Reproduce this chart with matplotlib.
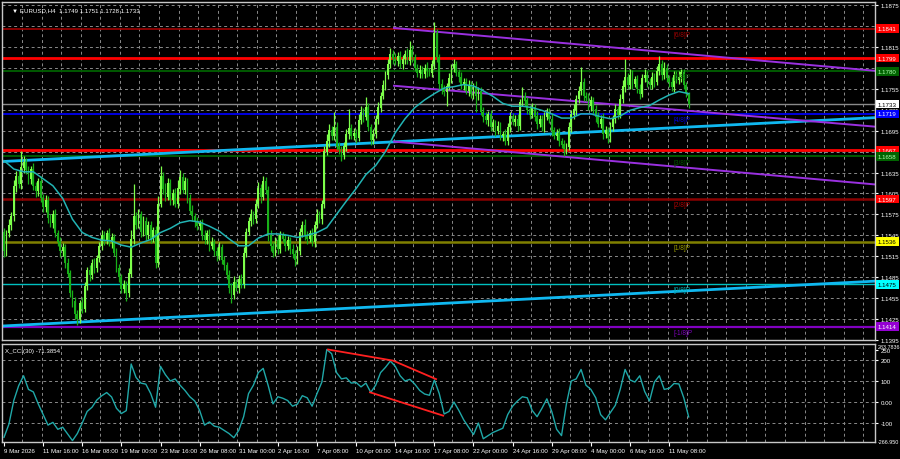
import numpy as np
import matplotlib
matplotlib.use("Agg")
import matplotlib.pyplot as plt
import matplotlib.transforms as mtransforms

plt.rcParams['font.family'] = ['Liberation Sans', 'DejaVu Sans']

# EURUSD H4 closes, in pips above 1.1000 (bar 0 = 9 Mar 2026 00:00)
close_pips = [
    522, 548, 560, 572, 615, 630, 618, 642, 650, 638,
    625, 640, 615, 608, 622, 598, 585, 596, 570, 562,
    575, 548, 535, 522, 528, 505, 490, 462, 450, 432,
    425, 448, 440, 472, 495, 488, 505, 498, 512, 530,
    545, 538, 548, 535, 542, 520, 498, 485, 468, 475,
    462, 490, 540, 572, 560, 575, 550, 565, 545, 560,
    540, 552, 505, 590, 630, 612, 600, 620, 595, 605,
    590, 612, 628, 610, 622, 598, 580, 572, 565, 558,
    562, 545, 538, 548, 530, 535, 522, 515, 528, 510,
    502, 488, 470, 460, 478, 470, 482, 475, 520, 550,
    565, 575, 568, 590, 612, 600, 622, 610, 545, 530,
    520, 538, 525, 545, 540, 530, 538, 525, 518, 510,
    522, 550, 560, 545, 540, 548, 535, 560, 575, 568,
    590, 665, 680, 695, 688, 700, 672, 668, 660, 672,
    690, 698, 688, 692, 685, 710, 722, 715, 728, 700,
    682, 690, 712, 728, 745, 760, 775, 790, 805, 798,
    795, 802, 790, 798, 805, 795, 810, 800, 785, 778,
    782, 776, 785, 780, 778, 790, 835, 800, 762, 755,
    750, 758, 770, 785, 790, 778, 772, 760, 765, 752,
    760, 748, 758, 745, 752, 722, 715, 710, 718, 700,
    705, 695, 702, 688, 690, 680, 700, 715, 708, 712,
    702, 735, 745, 738, 725, 718, 728, 715, 705, 712,
    700, 715, 722, 712, 695, 688, 692, 680, 675, 668,
    672, 700, 718, 725, 740, 752, 765, 745, 742, 730,
    738, 725, 715, 705, 712, 690, 695, 685, 700, 712,
    725, 718, 740, 758, 772, 760, 775, 762, 768, 755,
    748, 770, 775, 765, 760, 772, 765, 780, 790, 775,
    785, 770, 765, 758, 775, 768, 772, 778, 760, 749, 733,
]
first_open_pips = 550

# upper / lower wick lengths in pips
upper_wick = [
    6, 5, 8, 6, 9, 7, 8, 24, 8, 6,
    7, 5, 9, 6, 5, 8, 6, 7, 5, 6,
    6, 8, 5, 7, 6, 5, 8, 6, 5, 7,
    6, 5, 8, 6, 5, 7, 6, 8, 5, 6,
    7, 6, 5, 8, 6, 5, 7, 6, 5, 6,
    5, 8, 12, 47, 6, 8, 5, 7, 6, 5,
    6, 5, 7, 12, 14, 6, 8, 7, 5, 6,
    8, 12, 10, 6, 7, 5, 6, 8, 5, 6,
    5, 6, 7, 5, 6, 8, 5, 6, 7, 5,
    6, 5, 7, 6, 8, 5, 6, 7, 8, 6,
    6, 8, 5, 7, 9, 6, 8, 6, 5, 7,
    6, 5, 8, 6, 5, 7, 6, 5, 8, 6,
    7, 6, 5, 8, 6, 5, 7, 6, 8, 5,
    6, 8, 10, 9, 6, 22, 8, 6, 5, 7,
    8, 28, 6, 7, 5, 9, 8, 6, 15, 6,
    5, 7, 6, 8, 6, 7, 5, 8, 9, 6,
    8, 6, 7, 5, 6, 8, 14, 7, 5, 6,
    7, 5, 6, 8, 5, 6, 16, 6, 5, 7,
    6, 5, 7, 6, 8, 5, 6, 7, 5, 6,
    7, 6, 5, 8, 6, 5, 7, 6, 5, 6,
    6, 5, 7, 6, 5, 8, 6, 7, 5, 6,
    7, 6, 13, 6, 5, 7, 6, 5, 8, 6,
    6, 7, 5, 6, 8, 5, 6, 7, 5, 6,
    5, 7, 6, 8, 6, 7, 21, 6, 5, 7,
    6, 5, 7, 6, 5, 8, 6, 5, 7, 6,
    8, 6, 7, 9, 26, 6, 8, 7, 5, 6,
    7, 6, 8, 5, 6, 7, 5, 8, 12, 6,
    8, 6, 5, 7, 6, 5, 8, 6, 5, 4, 2,
]
lower_wick = [
    8, 6, 5, 7, 6, 8, 5, 6, 7, 5,
    6, 7, 5, 8, 6, 5, 7, 6, 8, 5,
    7, 6, 5, 8, 6, 7, 5, 6, 8, 7,
    9, 6, 7, 5, 6, 8, 5, 7, 6, 5,
    6, 7, 5, 6, 8, 5, 6, 7, 5, 6,
    11, 6, 5, 7, 6, 5, 8, 6, 7, 5,
    6, 5, 7, 6, 5, 8, 6, 5, 7, 6,
    5, 6, 8, 5, 6, 7, 5, 6, 8, 5,
    6, 7, 5, 6, 8, 5, 6, 7, 5, 6,
    7, 6, 8, 12, 6, 5, 7, 6, 5, 6,
    5, 6, 7, 5, 6, 8, 5, 6, 8, 7,
    6, 5, 7, 6, 5, 8, 6, 7, 5, 9,
    6, 5, 7, 6, 8, 5, 6, 7, 5, 6,
    7, 6, 5, 8, 6, 7, 5, 6, 8, 5,
    6, 7, 5, 6, 8, 5, 6, 7, 5, 6,
    7, 6, 5, 8, 6, 5, 7, 6, 5, 8,
    6, 7, 5, 6, 8, 5, 6, 7, 5, 6,
    7, 5, 6, 8, 5, 6, 7, 6, 8, 7,
    6, 19, 5, 7, 6, 5, 8, 6, 7, 5,
    8, 6, 7, 23, 6, 5, 7, 6, 8, 5,
    6, 7, 5, 6, 8, 5, 6, 7, 5, 6,
    7, 6, 5, 8, 6, 7, 5, 6, 8, 5,
    6, 7, 5, 6, 8, 5, 6, 7, 5, 9,
    6, 5, 7, 6, 8, 5, 6, 7, 5, 6,
    7, 6, 8, 5, 6, 7, 5, 8, 6, 5,
    6, 7, 5, 6, 8, 5, 6, 7, 5, 6,
    7, 5, 6, 8, 5, 6, 7, 5, 6, 8,
    6, 5, 7, 6, 8, 5, 6, 7, 5, 6, 5,
]

# moving average, every 4th bar (pips above 1.1000)
ma_pips = [
    652, 640, 636, 636, 626, 616, 598, 568, 549, 542,
    538, 537, 531, 528, 534, 539, 549, 555, 563, 566,
    564, 558, 551, 540, 530, 530, 541, 547, 547, 545,
    542, 545, 549, 556, 575, 594, 612, 632, 645, 665,
    692, 712, 728, 739, 748, 756, 758, 761, 759, 752,
    744, 734, 730, 730, 728, 724, 719, 713, 713, 719,
    719, 715, 712, 716, 724, 728, 731, 739, 746, 751, 748,
]

# CCI, every 2nd bar
cci_vals = [
    -168, -106, 7, 78, 125, 60, 48, -9, -60, -110,
    -97, -130, -120, -152, -184, -150, -100, -45, -25, 10,
    30, 45, 24, -30, -55, -41, 181, 117, 90, 85,
    40, -25, 170, 130, 100, 110, 80, 55, 25, 5,
    -40, -110, -95, -115, -120, -135, -150, -170, -135, -70,
    40, 80, 140, 160, 80, -9, 25, 18, 7, -20,
    -10, 30, 20, -20, 40, 95, 250, 230, 140, 110,
    115, 90, 93, 72, 90, 46, 80, 140, 165, 195,
    170, 125, 100, 108, 85, 55, 38, 32, 105, 40,
    -57, -45, 0, -40, -85, -120, -155, -100, -175, -160,
    -145, -135, -125, -60, -20, 5, 25, 20, -40, -70,
    -30, 15, -45, -130, -160, -10, 100, 110, 155, 80,
    60, 20, -60, -85, -50, -16, 60, 155, 105, 95,
    125, 50, 5, 95, 125, 60, 65, 88, 86, 20, -71,
]

# Murrey levels and other horizontal lines
levels = [1.1841, 1.1799, 1.1780, 1.1733, 1.1719, 1.1667, 1.1658, 1.1597, 1.1536, 1.1475, 1.1414]
level_colors = ['#a00000', '#ff0000', '#005a00', '#8a8a8a', '#0000e0', '#ff0000', '#005a00',
                '#8b0000', '#808000', '#00c0c0', '#8000c0']
level_widths = [1.2, 2.0, 1.4, 1.0, 1.4, 2.0, 1.4, 1.8, 1.8, 1.0, 1.6]
box_colors = ['#ff0000', '#ff0000', '#006400', '#ffffff', '#0000ff', '#ff0000', '#006400',
              '#ff0000', '#ffff00', '#00ffff', '#9400d3']
box_text = ['white', 'white', '#b0ffb0', 'black', 'white', 'white', '#b0ffb0',
            'white', 'black', 'black', 'white']
mm_names = ['[6/8]P', '[5/8]P', '[4/8]P', '[3/8]P', '[2/8]P', '[1/8]P', '[0/8]P', '[-1/8]P']
mm_prices = [1.1841, 1.1780, 1.1719, 1.1658, 1.1597, 1.1536, 1.1475, 1.1414]
mm_colors = ['#a00000', '#005a00', '#0000e0', '#005a00', '#b00000', '#a0a000', '#00b0b0', '#8000c0']

# trend lines: (bar0, price0, bar1, price1)
blue_lines = [(-0.8, 1.16507, 356.2, 1.17136), (-0.8, 1.14150, 356.2, 1.14793)]
purple_lines = [(159.5, 1.18421, 356.2, 1.17807), (159.5, 1.17593, 356.2, 1.17007),
                (159.5, 1.16793, 356.2, 1.16179)]
cci_red_lines = [(132.5, 250, 159.1, 197, 176.7, 109), (149.7, 46, 179.6, -65)]

date_pos = list(range(0, 273, 16))
date_labels = ['9 Mar 2026', '11 Mar 16:00', '16 Mar 08:00', '19 Mar 00:00', '23 Mar 16:00',
               '26 Mar 08:00', '31 Mar 00:00', '2 Apr 16:00', '7 Apr 08:00', '10 Apr 00:00',
               '14 Apr 16:00', '17 Apr 08:00', '22 Apr 00:00', '24 Apr 16:00', '29 Apr 08:00',
               '4 May 00:00', '6 May 16:00', '11 May 08:00']

# ---------------------------------------------------------------------------
close = 1.1 + np.array(close_pips) / 10000.0
opn = np.concatenate([[1.1 + first_open_pips / 10000.0], close[:-1]])
high = np.maximum(opn, close) + np.array(upper_wick) / 10000.0
low = np.minimum(opn, close) - np.array(lower_wick) / 10000.0
idx = np.arange(len(close))

fs = 4.4
grid_col = '#8a8a8a'
xlim = (-0.82, 356.2)

fig = plt.figure(figsize=(9, 4.6), dpi=100, facecolor='black')
ax = fig.add_axes([2 / 900, 1 - 341 / 460, 873 / 900, 338 / 460], facecolor='black')
ax2 = fig.add_axes([2 / 900, 1 - 443 / 460, 873 / 900, 98 / 460], facecolor='black')

for a in (ax, ax2):
    for s in a.spines.values():
        s.set_color('#c8c8c8')
        s.set_linewidth(1.0)
    a.set_xlim(*xlim)
    a.yaxis.tick_right()
    a.tick_params(axis='y', colors='white', labelsize=fs, length=2.5, width=0.8, pad=1.5)
    for k in range(8, 357, 8):
        a.axvline(k - 0.6, color=grid_col, lw=0.7, ls=(0, (3, 3)), zorder=0)

# main panel
ax.set_ylim(1.13964, 1.18793)
yt = np.arange(1.1395, 1.18751, 0.003)
ax.set_yticks(yt)
ax.set_yticklabels(['%.4f' % v for v in yt])
ax.set_xticks([])
for v in yt:
    ax.axhline(v, color=grid_col, lw=0.7, ls=(0, (3, 3)), zorder=0)

for p, c, w in zip(levels, level_colors, level_widths):
    ax.axhline(p, color=c, lw=w, zorder=1)

for x0, y0, x1, y1 in blue_lines:
    ax.plot([x0, x1], [y0, y1], color='#10b8f0', lw=2.0, zorder=2)
for x0, y0, x1, y1 in purple_lines:
    ax.plot([x0, x1], [y0, y1], color='#9a30e0', lw=1.4, zorder=2)

bull = close >= opn
cols = np.where(bull, '#7dff4a', '#18b018')
ax.vlines(idx, low, high, colors=cols, lw=0.9, zorder=3)
ax.bar(idx, np.abs(close - opn) + 0.00003, bottom=np.minimum(opn, close), width=0.72,
       color=cols, linewidth=0, zorder=3)

ax.plot(np.arange(0, 281, 4), 1.1 + np.array(ma_pips) / 10000.0, color='#22b4b4', lw=1.1, zorder=4)

for name, p, c in zip(mm_names, mm_prices, mm_colors):
    ax.annotate(name, (273.6, p), xytext=(0, -1.5), textcoords='offset points',
                color=c, fontsize=fs + 0.3, va='top', ha='left', zorder=5)

trans = mtransforms.blended_transform_factory(ax.transAxes, ax.transData)
for p, bc, tc in zip(levels, box_colors, box_text):
    ax.text(1.0035, p, '%.4f' % p, transform=trans, color=tc, fontsize=fs, va='center', ha='left',
            clip_on=False, zorder=6,
            bbox=dict(boxstyle='square,pad=0.3', facecolor=bc, edgecolor='none'))

ax.text(0.012, 0.985, '\u25bc EURUSD,H4  1.1749 1.1751 1.1728 1.1733', transform=ax.transAxes,
        color='white', fontsize=fs, va='top', ha='left')

# CCI panel
ax2.set_ylim(-190.5, 276.2)
ax2.set_yticks([-100, 0, 100, 200, 250])
ax2.set_yticklabels(['-100', '0.00', '100', '200', '250'])
for v in [-100, 0, 100, 200]:
    ax2.axhline(v, color=grid_col, lw=0.7, ls=(0, (3, 3)), zorder=0)
ax2.plot(np.arange(0, 281, 2), cci_vals, color='#20a8a8', lw=1.0, zorder=3)
for seg in cci_red_lines:
    ax2.plot(seg[0::2], seg[1::2], color='#ff2020', lw=1.3, zorder=4)
ax2.text(0.004, 0.96, 'X_CCI(30) -71.3854', transform=ax2.transAxes, color='white',
         fontsize=fs, va='top', ha='left')
ax2.text(1.003, 0.975, '283.7836', transform=ax2.transAxes, color='white', fontsize=3.9,
         va='center', ha='left', clip_on=False)
ax2.text(1.003, 0.01, '-266.950', transform=ax2.transAxes, color='white', fontsize=3.9,
         va='center', ha='left', clip_on=False)

ax2.set_xticks(date_pos)
ax2.set_xticklabels(date_labels)
ax2.tick_params(axis='x', colors='white', labelsize=fs, length=3, width=0.8, pad=1.5)
for lbl in ax2.get_xticklabels():
    lbl.set_horizontalalignment('left')

fig.savefig('out.png', dpi=100, facecolor='black')
